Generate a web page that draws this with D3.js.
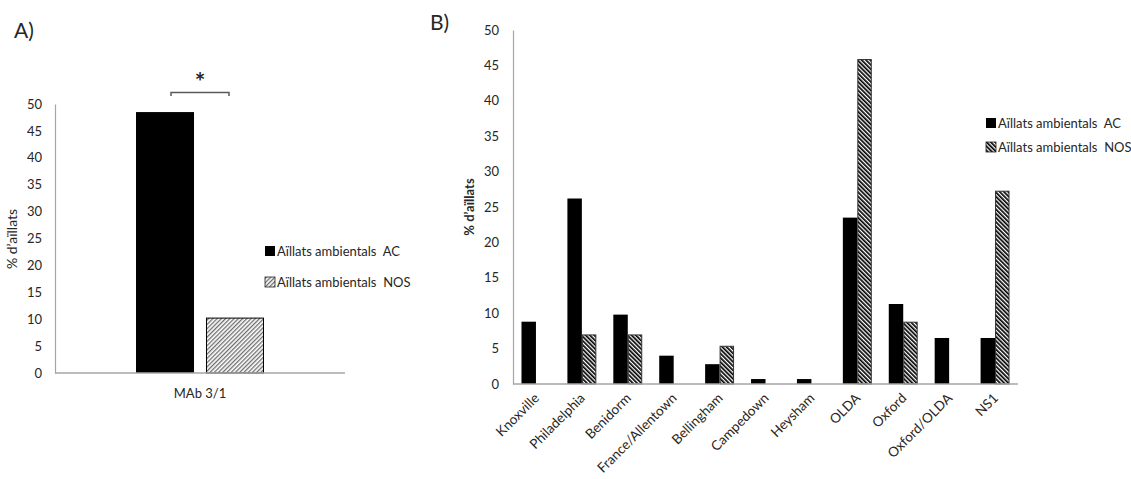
<!DOCTYPE html>
<html>
<head>
<meta charset="utf-8">
<title>% d'aïllats</title>
<style>
  body { margin: 0; background: #fff; }
  svg text { font-family: Lato, "Open Sans", sans-serif; fill: #262626; }
</style>
<script src="https://cdn.jsdelivr.net/npm/d3@7"></script>
</head>
<body>
<script>
// ---- data ----
var seriesNames = ["Aïllats ambientals  AC", "Aïllats ambientals  NOS"];

var catsA = ["MAb 3/1"];
var acA = [48.5];
var nosA = [10.3];

var catsB = ["Knoxville", "Philadelphia", "Benidorm", "France/Allentown", "Bellingham",
  "Campedown", "Heysham", "OLDA", "Oxford", "Oxford/OLDA", "NS1"];
var acB = [8.8, 26.2, 9.8, 4.0, 2.8, 0.7, 0.7, 23.5, 11.3, 6.5, 6.5];
var nosB = [0, 7.0, 7.0, 0, 5.4, 0, 0, 45.9, 8.8, 0, 27.3];

var yTicks = d3.range(0, 51, 5);
var axisGrey = "#a6a6a6";

var svg = d3.select("body").append("svg")
  .attr("width", 1131)
  .attr("height", 479);

// hatch patterns
var defs = svg.append("defs");
defs.append("pattern")
  .attr("id", "hatchA")
  .attr("patternUnits", "userSpaceOnUse")
  .attr("width", 3).attr("height", 3)
  .attr("patternTransform", "rotate(45)")
  .call(function(p) {
    p.append("rect").attr("width", 3).attr("height", 3).attr("fill", "#fff");
    p.append("rect").attr("width", 1.3).attr("height", 3).attr("fill", "#6e6e6e");
  });
defs.append("pattern")
  .attr("id", "hatchB")
  .attr("patternUnits", "userSpaceOnUse")
  .attr("width", 3).attr("height", 3)
  .attr("patternTransform", "rotate(-45)")
  .call(function(p) {
    p.append("rect").attr("width", 3).attr("height", 3).attr("fill", "#fff");
    p.append("rect").attr("width", 1.7).attr("height", 3).attr("fill", "#000");
  });

function drawPanel(o) {
  var g = svg.append("g");
  var y = d3.scaleLinear().domain([0, 50]).range([o.y0, o.y50]);
  var x0 = d3.scaleBand().domain(o.cats).range([o.xLeft, o.xRight])
    .paddingInner(o.padIn).paddingOuter(o.padOut);
  var x1 = d3.scaleBand().domain(["ac", "nos"]).range([0, x0.bandwidth()])
    .paddingInner(o.subPad);

  // y axis
  var ya = g.append("g")
    .attr("transform", "translate(" + o.xLeft + ",0)")
    .call(d3.axisLeft(y).tickValues(yTicks).tickSize(0).tickPadding(o.tickPad));
  ya.select(".domain").attr("stroke", axisGrey).attr("stroke-width", 1.2);
  ya.selectAll("text")
    .style("font-family", "Lato, sans-serif")
    .style("font-size", "13px")
    .attr("fill", "#404040");

  var rows = o.cats.map(function(c, i) {
    return { cat: c, ac: o.ac[i], nos: o.nos[i] };
  });

  var grp = g.selectAll(".grp").data(rows).enter().append("g")
    .attr("transform", function(d) { return "translate(" + x0(d.cat) + ",0)"; });

  grp.append("rect")
    .attr("x", x1("ac"))
    .attr("width", x1.bandwidth())
    .attr("y", function(d) { return y(d.ac); })
    .attr("height", function(d) { return y(0) - y(d.ac); })
    .attr("fill", "#000");

  grp.filter(function(d) { return d.nos > 0; }).append("rect")
    .attr("x", x1("nos") + 0.5)
    .attr("width", x1.bandwidth() - 1)
    .attr("y", function(d) { return y(d.nos) + 0.5; })
    .attr("height", function(d) { return y(0) - y(d.nos) - 0.5; })
    .attr("fill", "url(#" + o.hatch + ")")
    .attr("stroke", o.nosStroke)
    .attr("stroke-width", 1);

  // x axis line
  g.append("line")
    .attr("x1", o.xLeft).attr("x2", o.xRight)
    .attr("y1", y(0)).attr("y2", y(0))
    .attr("stroke", axisGrey).attr("stroke-width", 1.5);

  // category labels
  var lab = g.selectAll(".cat").data(o.cats).enter().append("text")
    .attr("fill", "#262626")
    .text(function(d) { return d; });
  if (o.rotate) {
    lab.style("font-size", "13.5px")
      .attr("text-anchor", "end")
      .attr("transform", function(d) {
        return "translate(" + (x0(d) + x0.bandwidth() / 2 + 4) + "," + (y(0) + 15) + ") rotate(-45)";
      });
  } else {
    lab.style("font-size", "13px")
      .attr("text-anchor", "middle")
      .attr("x", function(d) { return x0(d) + x0.bandwidth() / 2; })
      .attr("y", y(0) + 25);
  }

  // y title
  g.append("text")
    .attr("transform", "translate(" + o.titleX + "," + o.titleY + ") rotate(-90)")
    .attr("text-anchor", "middle")
    .style("font-size", o.titleSize)
    .style("font-weight", o.titleBold ? "bold" : "normal")
    .text("% d\u2019aïllats");

  // panel letter
  g.append("text")
    .attr("x", o.letterX).attr("y", o.letterY)
    .style("font-size", "21px")
    .attr("fill", "#000")
    .text(o.letter);

  // legend
  var leg = g.selectAll(".leg").data(seriesNames).enter().append("g")
    .attr("transform", function(d, i) { return "translate(" + o.legX + "," + (o.legY + i * o.legGap) + ")"; });
  leg.append("rect")
    .attr("x", 0).attr("y", -5)
    .attr("width", 10).attr("height", 10)
    .attr("fill", function(d, i) { return i === 0 ? "#000" : "url(#" + o.hatch + ")"; })
    .attr("stroke", function(d, i) { return i === 0 ? "none" : "#222"; })
    .attr("stroke-width", 0.8);
  leg.append("text")
    .attr("x", 12).attr("dy", "0.35em")
    .style("font-size", "13px")
    .style("white-space", "pre")
    .attr("fill", "#000")
    .text(function(d) { return d; });

  return { x0: x0, x1: x1, y: y };
}

var a = drawPanel({
  cats: catsA, ac: acA, nos: nosA,
  xLeft: 55, xRight: 345, y0: 373, y50: 104,
  padIn: 0, padOut: 0.633, subPad: 0.171, tickPad: 13,
  hatch: "hatchA", nosStroke: "#000", rotate: false,
  titleX: 17, titleY: 239, titleBold: false, titleSize: "14px",
  letter: "A)", letterX: 14, letterY: 38,
  legX: 265, legY: 251, legGap: 31
});

var b = drawPanel({
  cats: catsB, ac: acB, nos: nosB,
  xLeft: 513, xRight: 1018, y0: 384, y50: 30,
  padIn: 0.37, padOut: 0.185, subPad: 0, tickPad: 14,
  hatch: "hatchB", nosStroke: "#333", rotate: true,
  titleX: 474, titleY: 207, titleBold: true, titleSize: "13px",
  letter: "B)", letterX: 430, letterY: 30,
  legX: 986, legY: 123, legGap: 24
});

// significance bracket over panel A
var bx1 = a.x0("MAb 3/1") + a.x1("ac") + a.x1.bandwidth() / 2 + 6;
var bx2 = a.x0("MAb 3/1") + a.x1("nos") + a.x1.bandwidth() / 2 - 6;
svg.append("path")
  .attr("d", "M" + bx1 + "," + 96 + "V" + 92.5 + "H" + bx2 + "V" + 96)
  .attr("fill", "none")
  .attr("stroke", "#595959")
  .attr("stroke-width", 1.5);
svg.append("text")
  .attr("x", (bx1 + bx2) / 2).attr("y", 91)
  .attr("text-anchor", "middle")
  .style("font-size", "25px")
  .style("font-weight", "bold")
  .attr("fill", "#000")
  .text("*");
</script>
</body>
</html>
